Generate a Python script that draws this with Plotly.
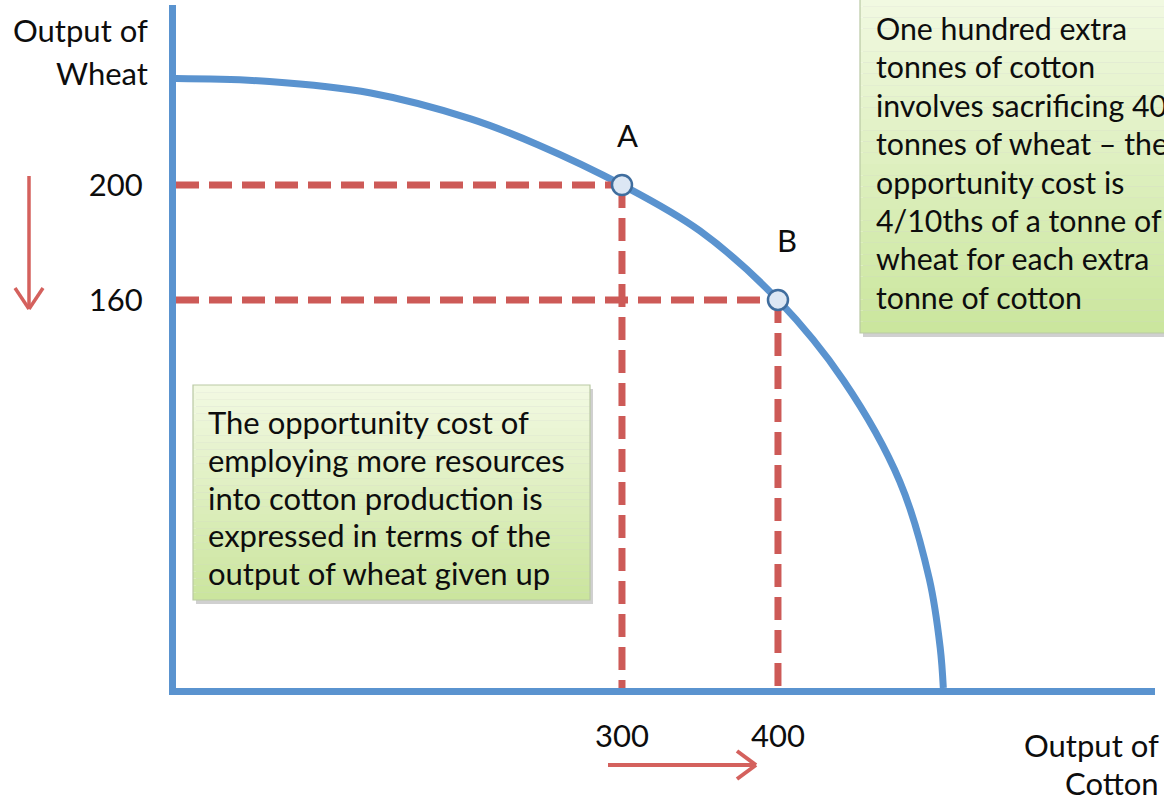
import plotly.graph_objects as go

# ---- data ----
cotton_curve = [14, 74, 139, 203, 246, 300, 350, 400, 442, 478, 497, 504, 506]
wheat_curve = [237, 236, 232, 223, 214, 200, 184, 160, 132, 97, 63, 39, 25]

point_names = ["A", "B"]
point_cotton = [300, 400]
point_wheat = [200, 160]

x_ticks = [300, 400]
x_tick_labels = ["300", "400"]
y_ticks = [200, 160]
y_tick_labels = ["200", "160"]

right_note = ["One hundred extra", "tonnes of cotton", "involves sacrificing 40",
              "tonnes of wheat – the", "opportunity cost is", "4/10ths of a tonne of",
              "wheat for each extra", "tonne of cotton"]
left_note = ["The opportunity cost of", "employing more resources", "into cotton production is",
             "expressed in terms of the", "output of wheat given up"]
y_title = ["Output of", "Wheat"]
x_title = ["Output of", "Cotton"]

X_RANGE = [14.1, 641.7]
Y_RANGE = [25.0, 262.6]

# ---- style ----
W, H = 1164, 801
BLUE = "#5a93cf"
RED = "#cd5a57"
ARROW_RED = "#d4615d"
FONT = "Lato, 'Open Sans', sans-serif"
TXT = "#0d0d0d"
FS = 31


def px(x):
    return x / W


def py(y):
    return 1 - y / H


fig = go.Figure()

# PPF curve
fig.add_trace(go.Scatter(x=cotton_curve, y=wheat_curve, mode="lines",
                         line=dict(color=BLUE, width=7, shape="spline", smoothing=1.0),
                         hoverinfo="skip", showlegend=False, cliponaxis=False))

# dashed guide lines
for cx, wy in zip(point_cotton, point_wheat):
    fig.add_trace(go.Scatter(x=[X_RANGE[0], cx], y=[wy, wy], mode="lines",
                             line=dict(color=RED, width=7, dash="23px,10px"),
                             hoverinfo="skip", showlegend=False))
    fig.add_trace(go.Scatter(x=[cx, cx], y=[wy, Y_RANGE[0]], mode="lines",
                             line=dict(color=RED, width=7, dash="23px,10px"),
                             hoverinfo="skip", showlegend=False))

# points
fig.add_trace(go.Scatter(x=point_cotton, y=point_wheat, mode="markers",
                         marker=dict(size=20, color="#dce7f4",
                                     line=dict(color="#3f6d9e", width=2.5)),
                         hoverinfo="skip", showlegend=False, cliponaxis=False))

annotations = []
shifts = [(6, 50), (9, 60)]
for name, cx, wy, (dx, dy) in zip(point_names, point_cotton, point_wheat, shifts):
    annotations.append(dict(x=cx, y=wy, xref="x", yref="y", text=name, showarrow=False,
                            xshift=dx, yshift=dy, font=dict(size=FS, color=TXT, family=FONT)))

shapes = []


def gradient_box(x0, y0, x1, y1, c_top, c_bot, n=30):
    shapes.append(dict(type="rect", xref="paper", yref="paper",
                       x0=px(x0 + 3), x1=px(x1 + 3), y0=py(y1 + 4), y1=py(y0 + 4),
                       fillcolor="rgba(120,120,120,0.35)", line=dict(width=0), layer="below"))
    for i in range(n):
        t = i / (n - 1)
        c = tuple(round(a + (b - a) * t) for a, b in zip(c_top, c_bot))
        ya = y0 + (y1 - y0) * i / n
        yb = y0 + (y1 - y0) * (i + 1) / n
        shapes.append(dict(type="rect", xref="paper", yref="paper",
                           x0=px(x0), x1=px(x1), y0=py(yb), y1=py(ya),
                           fillcolor="rgb(%d,%d,%d)" % c, line=dict(width=0), layer="below"))
    shapes.append(dict(type="rect", xref="paper", yref="paper",
                       x0=px(x0), x1=px(x1), y0=py(y1), y1=py(y0),
                       fillcolor="rgba(0,0,0,0)", line=dict(width=1.2, color="#b9c9a4"), layer="below"))


gradient_box(860, -5, 1170, 333, (241, 249, 225), (203, 230, 158))
gradient_box(193, 385, 590, 600, (242, 249, 226), (203, 229, 158))


def seg(x0, y0, x1, y1, color=ARROW_RED, w=4):
    shapes.append(dict(type="line", xref="paper", yref="paper",
                       x0=px(x0), y0=py(y0), x1=px(x1), y1=py(y1),
                       line=dict(color=color, width=w)))


# arrows (down and right)
seg(29, 176, 29, 308, w=3.5)
seg(15, 288, 29, 309, w=3.5)
seg(43, 288, 29, 309, w=3.5)
seg(608, 765, 755, 765)
seg(737, 751, 756, 765)
seg(737, 779, 756, 765)


def text_lines(lines, x, y_first, step, anchor, size=FS):
    for i, s in enumerate(lines):
        annotations.append(dict(xref="paper", yref="paper", x=px(x), y=py(y_first + i * step),
                                xanchor=anchor, yanchor="middle", showarrow=False, text=s,
                                font=dict(size=size, color=TXT, family=FONT)))


text_lines(y_title, 150, 30, 43, "right")
text_lines(x_title, 1161, 745, 38, "right")
text_lines(right_note, 874, 28, 38.4, "left", size=30.3)
text_lines(left_note, 206, 422, 37.8, "left")

fig.update_layout(
    width=W, height=H, margin=dict(l=0, r=0, t=0, b=0),
    paper_bgcolor="white", plot_bgcolor="rgba(0,0,0,0)",
    shapes=shapes, annotations=annotations, showlegend=False,
    font=dict(family=FONT, color=TXT),
    xaxis=dict(domain=[176 / W, 1155 / W], range=X_RANGE, showline=True, linecolor=BLUE,
               linewidth=7, showgrid=False, zeroline=False, tickvals=x_ticks,
               ticktext=x_tick_labels, ticks="outside", ticklen=15, tickcolor="rgba(0,0,0,0)",
               tickfont=dict(size=FS, color=TXT, family=FONT), fixedrange=True),
    yaxis=dict(domain=[1 - 688 / H, 1 - 5 / H], range=Y_RANGE, showline=True, linecolor=BLUE,
               linewidth=7, showgrid=False, zeroline=False, tickvals=y_ticks,
               ticktext=y_tick_labels, ticks="outside", ticklen=20, tickcolor="rgba(0,0,0,0)",
               tickfont=dict(size=FS, color=TXT, family=FONT), fixedrange=True),
)

fig.write_html("out.html", config={"displayModeBar": False},
               post_script="document.body.style.margin='0';")
